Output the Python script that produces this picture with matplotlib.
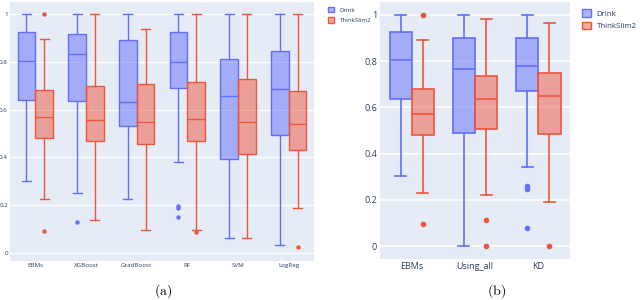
import matplotlib

matplotlib.use("Agg")
import matplotlib.pyplot as plt
from matplotlib.patches import Patch
from matplotlib.colors import to_rgba

plt.rcParams.update({"font.family": ["Open Sans", "DejaVu Sans"], "mathtext.fontset": "cm"})

BG = "#E5ECF6"
BLUE = "#636EFA"
RED = "#EF553B"
TXT = "#2a3f5f"

# (a) per-model box stats
models_a = ["EBMs", "XGBoost", "GradBoost", "RF", "SVM", "LogReg"]
drink_a_lo = [0.300, 0.251, 0.227, 0.382, 0.064, 0.032]
drink_a_q1 = [0.639, 0.638, 0.532, 0.690, 0.394, 0.493]
drink_a_med = [0.805, 0.833, 0.632, 0.798, 0.659, 0.687]
drink_a_q3 = [0.926, 0.916, 0.890, 0.926, 0.813, 0.847]
drink_a_hi = [1.0, 1.0, 1.0, 1.0, 1.0, 1.0]
drink_a_out = [[], [0.13], [], [0.195, 0.187, 0.15], [], []]

thin_a_lo = [0.227, 0.138, 0.095, 0.095, 0.064, 0.188]
thin_a_q1 = [0.480, 0.469, 0.458, 0.467, 0.416, 0.432]
thin_a_med = [0.571, 0.556, 0.549, 0.561, 0.547, 0.539]
thin_a_q3 = [0.681, 0.700, 0.706, 0.717, 0.728, 0.678]
thin_a_hi = [0.894, 1.0, 0.937, 1.0, 1.0, 1.0]
thin_a_out = [[1.0, 0.093], [], [], [0.088], [], [0.024]]

# (b) feature-set comparison
models_b = ["EBMs", "Using_all", "KD"]
drink_b_lo = [0.301, 0.0, 0.342]
drink_b_q1 = [0.637, 0.490, 0.670]
drink_b_med = [0.804, 0.767, 0.780]
drink_b_q3 = [0.925, 0.899, 0.900]
drink_b_hi = [1.0, 1.0, 1.0]
drink_b_out = [[], [], [0.262, 0.249, 0.078]]

thin_b_lo = [0.231, 0.220, 0.190]
thin_b_q1 = [0.480, 0.507, 0.487]
thin_b_med = [0.572, 0.637, 0.650]
thin_b_q3 = [0.680, 0.735, 0.749]
thin_b_hi = [0.893, 0.981, 0.964]
thin_b_out = [[1.0, 0.095], [0.111, 0.0], [0.0]]


def stats(lo, q1, med, q3, hi, out):
    return [dict(whislo=a, q1=b, med=c, q3=d, whishi=e, fliers=f)
            for a, b, c, d, e, f in zip(lo, q1, med, q3, hi, out)]


def panel(ax, cats, s_drink, s_thin, fs, lw, ms, ylim, pad):
    ax.set_facecolor(BG)
    for sp in ax.spines.values():
        sp.set_visible(False)
    n = len(cats)
    for st, col, off in [(s_drink, BLUE, -0.175), (s_thin, RED, 0.175)]:
        pos = [i + off for i in range(n)]
        ax.bxp(st, positions=pos, widths=0.35, capwidths=0.175, patch_artist=True,
               manage_ticks=False,
               boxprops=dict(facecolor=to_rgba(col, 0.5), edgecolor=col, linewidth=lw),
               medianprops=dict(color=col, linewidth=lw),
               whiskerprops=dict(color=col, linewidth=lw),
               capprops=dict(color=col, linewidth=lw),
               flierprops=dict(marker="o", markerfacecolor=col, markeredgecolor=col,
                               markersize=ms, linestyle="none"))
    ax.set_xlim(-0.5, n - 0.5)
    ax.set_ylim(*ylim)
    ax.set_xticks(range(n))
    ax.set_xticklabels(cats)
    ax.set_yticks([0, 0.2, 0.4, 0.6, 0.8, 1])
    ax.set_yticklabels(["0", "0.2", "0.4", "0.6", "0.8", "1"])
    ax.tick_params(length=0, labelsize=fs, colors=TXT, pad=pad)
    ax.grid(axis="y", color="white", linewidth=lw * 0.9)
    ax.set_axisbelow(True)


fig = plt.figure(figsize=(6.4, 3.0), dpi=100)
ax_a = fig.add_axes([10 / 640, 1 - 261 / 300, 304 / 640, 259 / 300])
ax_b = fig.add_axes([380 / 640, 1 - 259 / 300, 190 / 640, 257 / 300])

panel(ax_a, models_a,
      stats(drink_a_lo, drink_a_q1, drink_a_med, drink_a_q3, drink_a_hi, drink_a_out),
      stats(thin_a_lo, thin_a_q1, thin_a_med, thin_a_q3, thin_a_hi, thin_a_out),
      fs=4.5, lw=1.0, ms=2.2, ylim=(-0.033, 1.05), pad=1.5)
panel(ax_b, models_b,
      stats(drink_b_lo, drink_b_q1, drink_b_med, drink_b_q3, drink_b_hi, drink_b_out),
      stats(thin_b_lo, thin_b_q1, thin_b_med, thin_b_q3, thin_b_hi, thin_b_out),
      fs=6.5, lw=1.2, ms=3.0, ylim=(-0.056, 1.056), pad=2)

handles = [Patch(facecolor=to_rgba(BLUE, 0.5), edgecolor=BLUE, label="Drink"),
           Patch(facecolor=to_rgba(RED, 0.5), edgecolor=RED, label="ThinkSlim2")]
fig.legend(handles=handles, loc="upper left", bbox_to_anchor=(322 / 640, 1 - 1 / 300),
           frameon=False, fontsize=4.5, handlelength=1.0, handleheight=1.0,
           handletextpad=0.9, labelspacing=0.7, labelcolor=TXT)
fig.legend(handles=handles, loc="upper left", bbox_to_anchor=(576 / 640, 1 - 3 / 300),
           frameon=False, fontsize=5.7, handlelength=1.1, handleheight=1.1,
           handletextpad=0.7, labelspacing=0.5, labelcolor=TXT, borderpad=0.3)

fig.text(163 / 640, 1 - 291 / 300, r"$(\mathrm{a})$", ha="center", va="center", fontsize=10)
fig.text(497 / 640, 1 - 291 / 300, r"$(\mathrm{b})$", ha="center", va="center", fontsize=10)

fig.savefig("out.png", dpi=100)
